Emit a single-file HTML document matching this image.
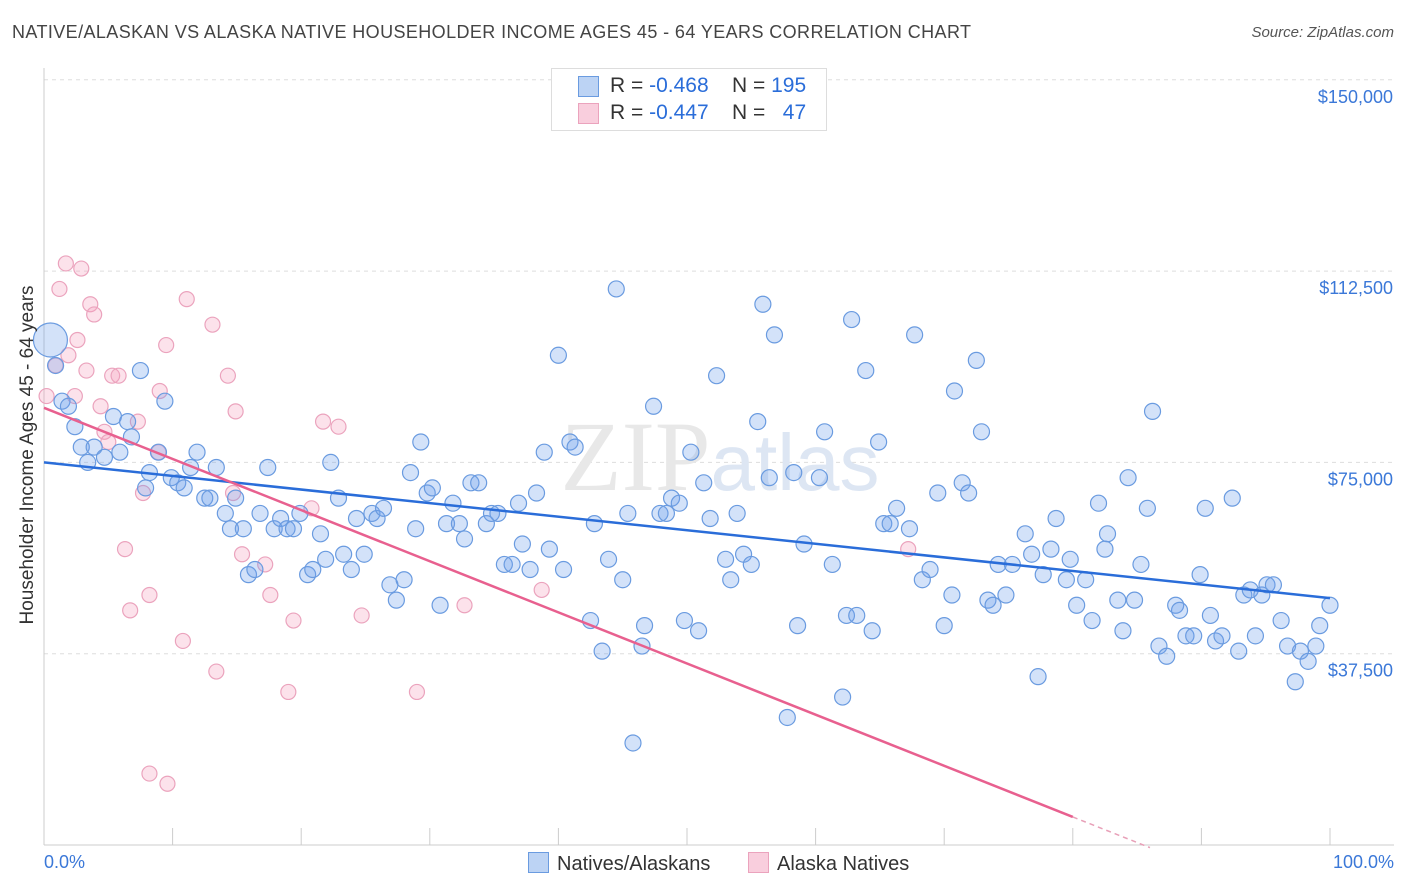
<!DOCTYPE html>
<html><head><meta charset="utf-8">
<style>
body{margin:0;background:#fff;font-family:"Liberation Sans",sans-serif;}
#wrap{position:relative;width:1406px;height:892px;overflow:hidden;}
.t{position:absolute;white-space:nowrap;}
</style></head>
<body>
<div id="wrap">
<div class="t" style="left:12px;top:22px;font-size:18px;letter-spacing:0.4px;color:#444;">NATIVE/ALASKAN VS ALASKA NATIVE HOUSEHOLDER INCOME AGES 45 - 64 YEARS CORRELATION CHART</div>
<div class="t" style="right:12px;top:24px;font-size:15px;color:#555;font-style:italic;">Source: ZipAtlas.com</div>
<svg id="svg" width="1406" height="892" style="position:absolute;left:0;top:0"></svg>
</div>
<script>
const blueX=[0.5,0.9,1.4,1.9,2.4,2.9,3.4,3.9,4.7,5.4,5.9,6.5,6.8,7.5,8.2,7.9,8.9,9.4,9.9,10.4,10.9,11.4,11.9,12.5,12.9,13.4,14.1,14.5,14.9,15.5,15.9,16.4,16.8,17.4,17.9,18.4,18.9,19.4,19.9,20.5,20.9,21.5,21.9,22.3,22.9,23.3,23.9,24.3,24.9,25.5,25.9,26.4,26.9,27.4,28.0,28.5,28.9,29.3,29.8,30.2,30.8,31.3,31.8,32.3,32.7,33.2,33.8,34.4,34.8,35.3,35.8,36.4,36.9,37.2,37.8,38.3,38.9,39.3,40.0,40.4,40.9,41.3,42.5,42.8,43.4,43.9,44.5,45.0,45.4,45.8,46.7,46.5,47.4,47.9,48.4,48.8,49.4,49.8,50.3,50.9,51.3,51.8,52.3,53.0,53.4,53.9,54.4,55.0,55.5,55.9,56.4,56.8,57.8,58.3,58.6,59.1,60.3,60.7,61.3,62.1,62.4,62.8,63.2,63.9,64.4,64.9,65.3,65.8,66.3,67.3,67.7,68.3,68.9,69.5,70.0,70.6,70.8,71.4,71.9,72.5,72.9,73.4,73.8,74.2,74.8,75.3,76.3,76.8,77.3,77.7,78.3,78.7,79.5,79.8,80.3,81.0,81.5,82.0,82.5,82.7,83.5,83.9,84.3,84.8,85.3,85.8,86.2,86.7,87.3,88.0,88.3,88.8,89.4,89.9,90.3,90.7,91.1,91.6,92.4,92.9,93.3,93.8,94.2,94.7,95.1,95.6,96.2,96.7,97.3,97.7,98.3,98.9,99.2,100];
const blueY=[99,94,87,86,82,78,75,78,76,84,77,83,80,93,73,70,77,87,72,71,70,74,77,68,68,74,65,62,68,62,53,54,65,74,62,64,62,62,65,53,54,61,56,75,68,57,54,64,57,65,64,66,51,48,52,73,62,79,69,70,47,63,67,63,60,71,71,63,65,65,55,55,67,59,54,69,77,58,96,54,79,78,44,63,38,56,109,52,65,20,43,39,86,65,65,68,67,44,77,42,71,64,92,56,52,65,57,55,83,106,72,100,25,73,43,59,72,81,55,29,45,103,45,93,42,79,63,63,66,62,100,52,54,69,43,49,89,71,69,95,81,48,47,55,49,55,61,57,33,53,58,64,52,56,47,52,44,67,58,61,48,42,72,48,55,66,85,39,37,47,46,41,41,53,66,45,40,41,68,38,49,50,41,49,51,51,44,39,32,38,36,39,43,47];
const blueR=[17];
const pinkX=[0.2,0.9,1.2,1.7,1.9,2.4,2.6,2.9,3.3,3.6,3.9,4.4,4.7,5.0,5.3,5.8,6.3,6.7,7.3,7.7,8.2,8.2,8.9,9.0,9.5,9.6,10.8,11.1,13.1,13.4,14.3,14.7,14.9,15.4,17.2,17.6,19.0,19.4,20.8,21.7,22.9,24.7,29.0,32.7,38.7,67.2];
const pinkY=[88,94,109,114,96,88,99,113,93,106,104,86,81,79,92,92,58,46,83,69,49,14,77,89,98,12,40,107,102,34,92,69,85,57,55,49,30,44,66,83,82,45,30,47,50,58];
const blueLine=[75.0,48.4];
const pinkLine=[85.7,5.5,80];
const yTicks=[37500,75000,112500,150000];
const yTickLabels=["$37,500","$75,000","$112,500","$150,000"];

const X=p=>44+p*12.86;
const Y=k=>845-k*1000/37500*191.3;
const svg=document.getElementById('svg');
const NS='http://www.w3.org/2000/svg';
function mk(t,a){const e=document.createElementNS(NS,t);for(const k in a)e.setAttribute(k,a[k]);svg.appendChild(e);return e;}

yTicks.forEach((v,i)=>{
 const g=mk('line',{x1:44,x2:1394,y1:Y(v/1000),y2:Y(v/1000),stroke:'#ddd','stroke-dasharray':'4,4'});
 
 
 const t=mk('text',{x:1393,y:Y(v/1000)+23,'text-anchor':'end','font-size':18,fill:'#3b78d8','font-family':'Liberation Sans, sans-serif'});
 t.textContent=yTickLabels[i];
 
 
});
mk('line',{x1:44,x2:1394,y1:845,y2:845,stroke:'#ccc'});
mk('line',{x1:44,x2:44,y1:68,y2:845,stroke:'#ccc'});
for(let i=0;i<=10;i++){const l=mk('line',{x1:X(i*10),x2:X(i*10),y1:828,y2:845,stroke:'#ccc'});
 
 }
const wm=mk('text',{x:720,y:490,'text-anchor':'middle','font-size':100,fill:'#e8e8e8','font-family':'Liberation Serif, serif'});
wm.innerHTML='ZIP<tspan fill="#dde6f3" font-family="Liberation Sans, sans-serif" font-size="80">atlas</tspan>';



pinkX.forEach((x,i)=>{const c=mk('circle',{cx:X(x),cy:Y(pinkY[i]),r:7.5,fill:'rgba(244,160,190,0.3)',stroke:'#eba3bd','stroke-width':1.2});
 
 });
blueX.forEach((x,i)=>{const c=mk('circle',{cx:X(x),cy:Y(blueY[i]),r:i===0?blueR[0]:8,fill:'rgba(110,160,235,0.3)',stroke:'#6a9be0','stroke-width':1.2});
 
 });

const bl=mk('line',{x1:X(0),y1:Y(blueLine[0]),x2:X(100),y2:Y(blueLine[1]),stroke:'#2a6dd9','stroke-width':2.5});


const slope=(pinkLine[1]-pinkLine[0])/pinkLine[2];
const pl=mk('line',{x1:X(0),y1:Y(pinkLine[0]),x2:X(pinkLine[2]),y2:Y(pinkLine[1]),stroke:'#e8608f','stroke-width':2.5});


const pd=mk('line',{x1:X(pinkLine[2]),y1:Y(pinkLine[1]),x2:X(86),y2:Y(pinkLine[0]+slope*86),stroke:'#e8a0b8','stroke-width':1.5,'stroke-dasharray':'5,4'});


</script>
<div class="t" style="left:-152px;top:444px;font-size:19px;color:#333;transform:rotate(-90deg);transform-origin:center;width:360px;text-align:center;">Householder Income Ages 45 - 64 years</div>
<div class="t" style="left:44px;top:852px;font-size:18px;color:#3b78d8;">0.0%</div>
<div class="t" style="right:12px;top:852px;font-size:18px;color:#3b78d8;">100.0%</div>
<div style="position:absolute;left:551px;top:68px;width:274px;height:61px;border:1px solid #ddd;background:#fff;font-size:21px;color:#333;">
 <div style="position:absolute;left:26px;top:7px;width:19px;height:19px;background:#bcd3f4;border:1px solid #6a9be0;"></div>
 <div class="t" style="left:58px;top:5px;">R = <span style="color:#2a6dd9">-0.468</span>&nbsp;&nbsp;&nbsp; N = <span style="color:#2a6dd9">195</span></div>
 <div style="position:absolute;left:26px;top:34px;width:19px;height:19px;background:#f9cedd;border:1px solid #eba3bd;"></div>
 <div class="t" style="left:58px;top:32px;">R = <span style="color:#2a6dd9">-0.447</span>&nbsp;&nbsp;&nbsp; N = &nbsp;&nbsp;<span style="color:#2a6dd9">47</span></div>
</div>
<div style="position:absolute;left:528px;top:852px;font-size:20px;color:#333;">
 <span style="display:inline-block;width:19px;height:19px;background:#bcd3f4;border:1px solid #6a9be0;vertical-align:-3px;margin-right:8px;"></span>Natives/Alaskans</div>
<div style="position:absolute;left:748px;top:852px;font-size:20px;color:#333;">
 <span style="display:inline-block;width:19px;height:19px;background:#f9cedd;border:1px solid #eba3bd;vertical-align:-3px;margin-right:8px;"></span>Alaska Natives</div>
</body></html>
